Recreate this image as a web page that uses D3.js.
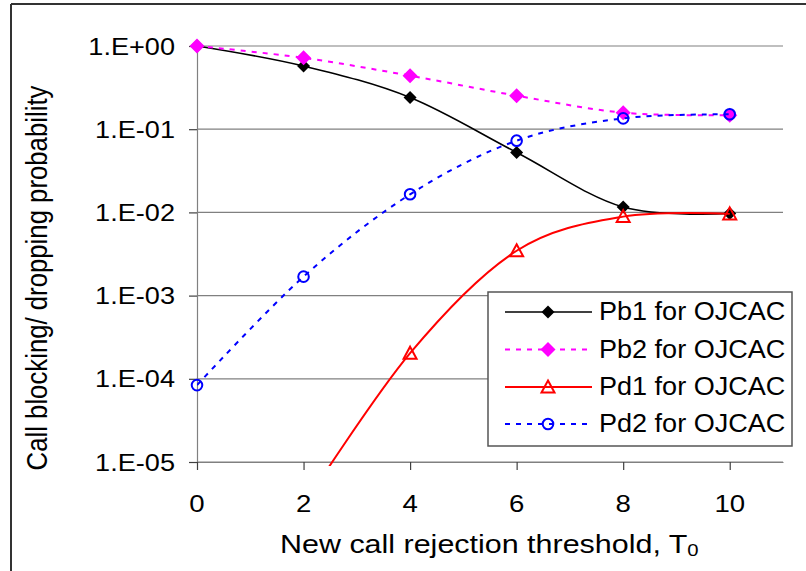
<!DOCTYPE html>
<html><head><meta charset="utf-8">
<script src="https://cdn.jsdelivr.net/npm/d3@7"></script>
<style>html,body{margin:0;padding:0;background:#fff;}svg{display:block;font-family:"Liberation Sans",Arial,sans-serif;}</style>
</head><body>
<svg id="c" width="806" height="571"></svg>
<script>
// ---- data ----
const thresholds = [0, 2, 4, 6, 8, 10];
const pb1 = [1.0, 0.574, 0.24, 0.0525, 0.0116, 0.0097];
const pb2 = [1.0, 0.72, 0.44, 0.253, 0.158, 0.147];
const pd1 = [null, 3.0e-6, 2.03e-4, 3.46e-3, 8.9e-3, 9.6e-3];
const pd2 = [8.4e-5, 1.69e-3, 0.0165, 0.0728, 0.135, 0.151];
const seriesNames = ["Pb1 for OJCAC", "Pb2 for OJCAC", "Pd1 for OJCAC", "Pd2 for OJCAC"];
const xTicks = [0, 2, 4, 6, 8, 10];
const yTicks = [1, 0.1, 0.01, 0.001, 0.0001, 0.00001];
const yTickLabels = ["1.E+00", "1.E-01", "1.E-02", "1.E-03", "1.E-04", "1.E-05"];
const xTitle = "New call rejection threshold, T";
const xTitleSub = "0";
const yTitle = "Call blocking/ dropping probability";

// ---- layout ----
const svg = d3.select("#c");
const L = 197, R = 783, T = 46, B = 462;
const x = d3.scaleLinear().domain([0, 11]).range([L, R]);
const y = d3.scaleLog().domain([1e-5, 1]).range([B, T]);

// frame
svg.append("line").attr("x1", 11).attr("x2", 11).attr("y1", 4).attr("y2", 571).attr("stroke", "#333").attr("stroke-width", 2);
svg.append("line").attr("x1", 11).attr("x2", 806).attr("y1", 4).attr("y2", 4).attr("stroke", "#333").attr("stroke-width", 2);

// gridlines
svg.append("g").selectAll("line").data(yTicks).join("line")
  .attr("x1", L).attr("x2", R).attr("y1", d => y(d)).attr("y2", d => y(d))
  .attr("stroke", "#808080").attr("stroke-width", 1.2);

// axes
const yAxis = d3.axisLeft(y).tickValues(yTicks).tickSize(8).tickFormat("");
const gy = svg.append("g").attr("transform", `translate(${L},0)`).call(yAxis);
gy.select(".domain").attr("stroke", "#808080").attr("stroke-width", 1.2);
gy.selectAll(".tick line").attr("stroke", "#404040").attr("stroke-width", 1.2);

const xAxis = d3.axisBottom(x).tickValues(xTicks).tickSize(8).tickSizeOuter(0).tickFormat("");
const gx = svg.append("g").attr("transform", `translate(0,${B})`).call(xAxis);
gx.select(".domain").attr("stroke", "#808080").attr("stroke-width", 1.2);
gx.selectAll(".tick line").attr("stroke", "#404040").attr("stroke-width", 1.2);

// tick labels
svg.append("g").selectAll("text").data(yTicks).join("text")
  .attr("transform", d => `translate(175,${y(d) + 8.5}) scale(1.13,1)`)
  .attr("text-anchor", "end").attr("font-size", 24).attr("fill", "#000")
  .text((d, i) => yTickLabels[i]);
svg.append("g").selectAll("text").data(xTicks).join("text")
  .attr("transform", d => `translate(${x(d)},512) scale(1.15,1)`)
  .attr("text-anchor", "middle").attr("font-size", 24).attr("fill", "#000")
  .text(d => d);

// titles
const xt = svg.append("text").attr("transform", "translate(280,553) scale(1.195,1)")
  .attr("font-size", 25.5).attr("fill", "#000");
xt.append("tspan").text(xTitle);
xt.append("tspan").attr("font-size", 17).attr("dy", 3).text(xTitleSub);
svg.append("text").attr("transform", "translate(46.5,278) rotate(-90) scale(1.03,1.2)")
  .attr("text-anchor", "middle").attr("font-size", 25).attr("fill", "#000").text(yTitle);

// clip for lines
svg.append("clipPath").attr("id", "plotclip").append("rect")
  .attr("x", L).attr("y", T - 10).attr("width", R - L + 10).attr("height", B - T + 14);

const series = [
  {vals: pb1, color: "#000", dash: null, width: 1.6, marker: "diamondS"},
  {vals: pb2, color: "#FF00FF", dash: "5,6", width: 2, marker: "diamondL"},
  {vals: pd1, color: "#FF0000", dash: null, width: 2, marker: "triangle"},
  {vals: pd2, color: "#0000FF", dash: "5,6", width: 2, marker: "circle"}
];

const line = d3.line().defined(d => d.v != null).x(d => x(d.t)).y(d => y(d.v)).curve(d3.curveCardinal.tension(0));

function drawMarker(g, type, color, cx, cy) {
  if (type === "diamondS") {
    g.append("path").attr("d", `M${cx},${cy-6.5}L${cx+6.5},${cy}L${cx},${cy+6.5}L${cx-6.5},${cy}Z`).attr("fill", color);
  } else if (type === "diamondL") {
    g.append("path").attr("d", `M${cx},${cy-7.5}L${cx+7.5},${cy}L${cx},${cy+7.5}L${cx-7.5},${cy}Z`).attr("fill", color);
  } else if (type === "triangle") {
    g.append("path").attr("d", `M${cx},${cy-6.5}L${cx+6.5},${cy+5.5}L${cx-6.5},${cy+5.5}Z`)
      .attr("fill", "none").attr("stroke", color).attr("stroke-width", 2);
  } else if (type === "circle") {
    g.append("circle").attr("cx", cx).attr("cy", cy).attr("r", 5.3)
      .attr("fill", "none").attr("stroke", color).attr("stroke-width", 2);
  }
}

series.forEach(s => {
  const pts = thresholds.map((t, i) => ({t, v: s.vals[i]}));
  svg.append("path").datum(pts.filter(d => d.v != null))
    .attr("clip-path", "url(#plotclip)")
    .attr("d", line).attr("fill", "none").attr("stroke", s.color)
    .attr("stroke-width", s.width).attr("stroke-dasharray", s.dash);
  const g = svg.append("g");
  pts.filter(d => d.v != null && d.v >= 1e-5).forEach(d => drawMarker(g, s.marker, s.color, x(d.t), y(d.v)));
});

// legend
const lg = svg.append("g");
lg.append("rect").attr("x", 488).attr("y", 292).attr("width", 304).attr("height", 154)
  .attr("fill", "#fff").attr("stroke", "#555").attr("stroke-width", 1.5);
const rowY = [312, 349.5, 387, 424];
series.forEach((s, i) => {
  const ry = rowY[i];
  lg.append("line").attr("x1", 505).attr("x2", 592).attr("y1", ry).attr("y2", ry)
    .attr("stroke", s.color).attr("stroke-width", s.width).attr("stroke-dasharray", s.dash);
  drawMarker(lg, s.marker, s.color, 548, ry);
  lg.append("text").attr("transform", `translate(599,${ry + 8}) scale(1.04,1)`)
    .attr("font-size", 26).attr("fill", "#000").text(seriesNames[i]);
});
</script>
</body></html>
